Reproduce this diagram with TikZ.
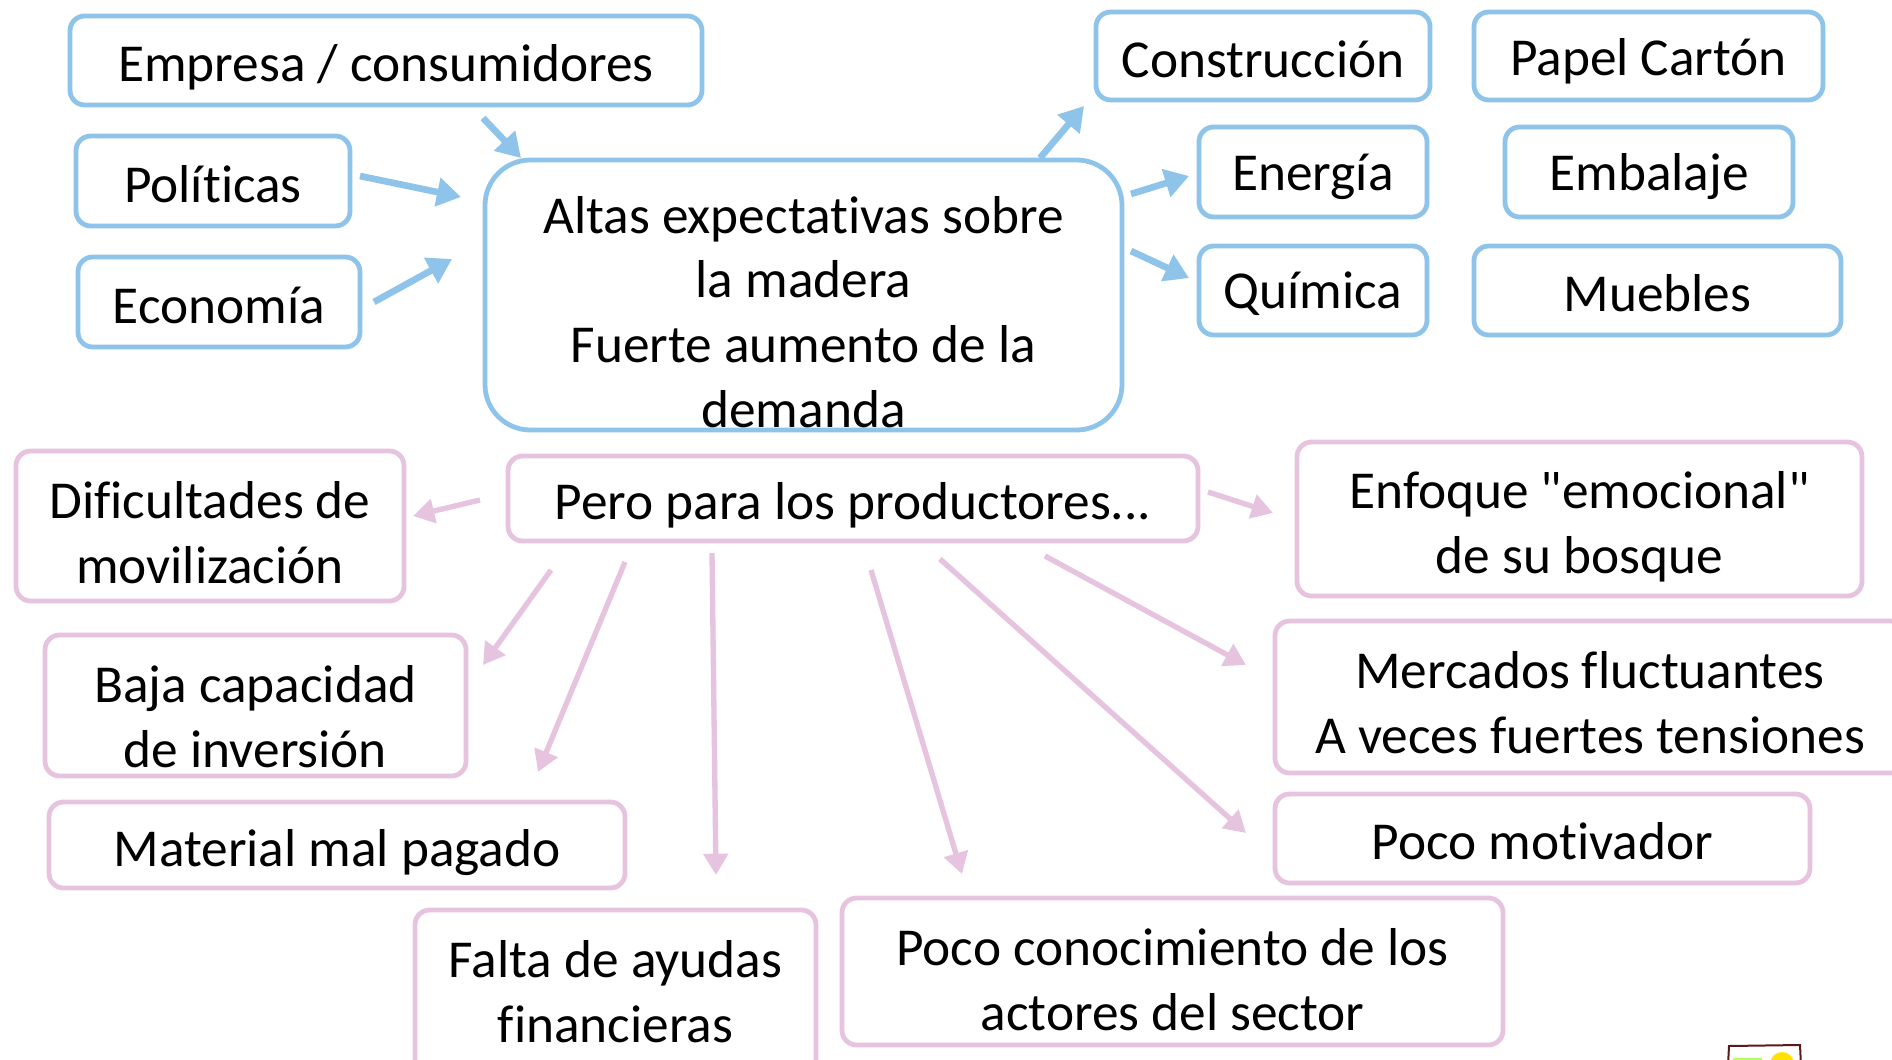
\documentclass[tikz,border=0pt]{standalone}
\usepackage{fontspec}
\setmainfont{Carlito}[Ligatures={TeXOff,CommonOff}]
\usetikzlibrary{arrows.meta}
\definecolor{bl}{HTML}{8EC3EA}
\definecolor{pk}{HTML}{E6C3DE}
\definecolor{logobrown}{HTML}{5A1A1A}
% style, x1, y1, x2, y2, name, text shift (px), text
\newcommand\mkbox[8]{%
  \node[#1, minimum width={(#4-#2)*0.75pt}, minimum height={(#5-#3)*0.75pt}] (#6) at ({(#2+#4)/2},{(#3+#5)/2}) {};
  \node[boxtext] (#6-t) at ({(#2+#4)/2},{(#3+#5)/2+#7}) {#8};}
\begin{document}
\begin{tikzpicture}[x=0.75pt,y=-0.75pt,
  box/.style={draw, line width=3.6pt, rounded corners=11pt, inner sep=0pt},
  boxtext/.style={inner sep=0pt, align=center, font=\fontsize{40}{48.5}\selectfont},
  bluebox/.style={box, draw=bl},
  pinkbox/.style={box, draw=pk},
  barrow/.style={draw=bl, line width=5pt, -{Triangle[length=18pt,width=21pt]}},
  parrow/.style={draw=pk, line width=4pt, -{Triangle[length=16pt,width=18pt]}}]
\useasboundingbox (0,0) rectangle (1892,1060);
\fill[white] (0,0) rectangle (1892,1060);

% blue boxes
\mkbox{bluebox}{70}{16}{702}{105}{empresa}{7}{Empresa / consumidores}
\mkbox{bluebox}{76}{136}{350}{226}{politicas}{3}{Políticas}
\mkbox{bluebox}{78}{257}{360}{347}{economia}{3}{Economía}
\mkbox{bluebox, rounded corners=34pt}{485}{160}{1122}{430}{central}{17}{Altas expectativas sobre\\la madera\\Fuerte aumento de la\\demanda}
\mkbox{bluebox}{1096}{12}{1430}{100}{construccion}{3}{Construcción}
\mkbox{bluebox}{1474}{12}{1823}{100}{papel}{5}{Papel Cartón}
\mkbox{bluebox}{1199}{127}{1427}{217}{energia}{5}{Energía}
\mkbox{bluebox}{1505}{127}{1793}{217}{embalaje}{5}{Embalaje}
\mkbox{bluebox}{1199}{246}{1427}{335}{quimica}{3}{Química}
\mkbox{bluebox}{1474}{246}{1841}{335}{muebles}{3}{Muebles}

% pink boxes
\mkbox{pinkbox}{16}{451}{404}{601}{dificultades}{7}{Dificultades de\\movilización}
\mkbox{pinkbox}{508}{456}{1198}{541}{pero}{7}{Pero para los productores...}
\mkbox{pinkbox}{1297}{442}{1862}{596}{enfoque}{8}{Enfoque "emocional"\\de su bosque}
\mkbox{pinkbox}{45}{635}{466}{776}{baja}{11}{Baja capacidad\\de inversión}
\mkbox{pinkbox}{1275}{621}{1905}{773}{mercados}{6}{Mercados fluctuantes\\A veces fuertes tensiones}
\mkbox{pinkbox}{49}{802}{625}{888}{material}{8}{Material mal pagado}
\mkbox{pinkbox}{1275}{794}{1810}{883}{motivador}{3}{Poco motivador}
\mkbox{pinkbox}{415}{910}{816}{1075}{falta}{-1}{Falta de ayudas\\financieras}
\mkbox{pinkbox}{842}{898}{1503}{1045}{conocimiento}{8}{Poco conocimiento de los\\actores del sector}

% arrow end coordinates
\coordinate (a1s) at (483,118);  \coordinate (a1e) at (521,158);
\coordinate (a2s) at (360,176);  \coordinate (a2e) at (461,197);
\coordinate (a3s) at (374,302);  \coordinate (a3e) at (452,259);
\coordinate (a4s) at (1040,158); \coordinate (a4e) at (1084,106);
\coordinate (a5s) at (1131,194); \coordinate (a5e) at (1189,176);
\coordinate (a6s) at (1131,251); \coordinate (a6e) at (1189,278);

\coordinate (p1s) at (480,500);  \coordinate (p1e) at (413,516);
\coordinate (p2s) at (551,570);  \coordinate (p2e) at (483,665);
\coordinate (p3s) at (625,562);  \coordinate (p3e) at (538,772);
\coordinate (p4s) at (712,553);  \coordinate (p4e) at (716,875);
\coordinate (p5s) at (871,570);  \coordinate (p5e) at (962,874);
\coordinate (p6s) at (940,559);  \coordinate (p6e) at (1246,833);
\coordinate (p7s) at (1045,556); \coordinate (p7e) at (1246,665);
\coordinate (p8s) at (1208,492); \coordinate (p8e) at (1273,513);

\draw[barrow] (a1s) -- (a1e);
\draw[barrow] (a2s) -- (a2e);
\draw[barrow] (a3s) -- (a3e);
\draw[barrow] (a4s) -- (a4e);
\draw[barrow] (a5s) -- (a5e);
\draw[barrow] (a6s) -- (a6e);

\draw[parrow] (p1s) -- (p1e);
\draw[parrow] (p2s) -- (p2e);
\draw[parrow] (p3s) -- (p3e);
\draw[parrow] (p4s) -- (p4e);
\draw[parrow] (p5s) -- (p5e);
\draw[parrow] (p6s) -- (p6e);
\draw[parrow] (p7s) -- (p7e);
\draw[parrow] (p8s) -- (p8e);

% partial logo in the corner
\fill[green!50!yellow!60] (1733,1058) rectangle (1762,1064);
\fill[yellow!85!orange] (1782,1064) circle (9pt);
\draw[logobrown, line width=1.5pt] (1728,1066) -- (1729,1046) -- (1800,1045) -- (1801,1066);
\end{tikzpicture}
\end{document}
